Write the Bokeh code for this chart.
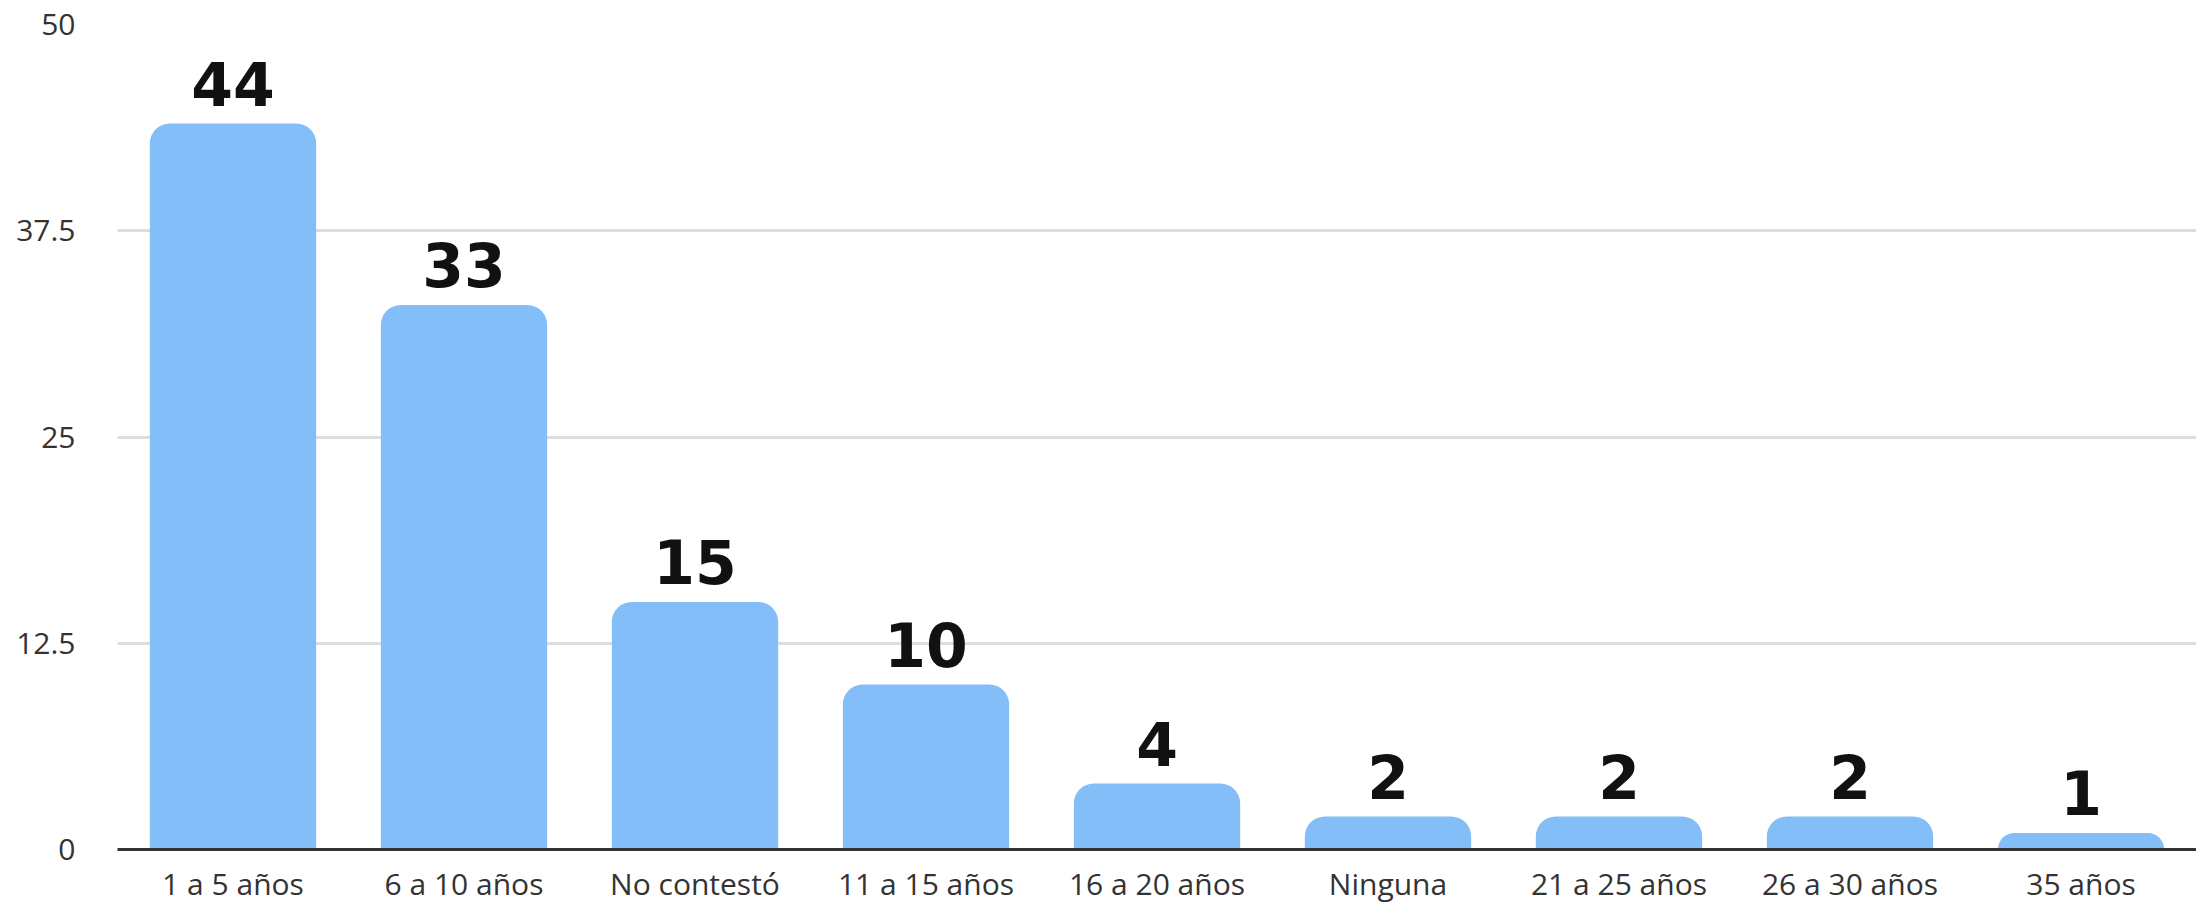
from bokeh.plotting import figure
from bokeh.models import ColumnDataSource, FixedTicker, Range1d
from bokeh.core.properties import value
from bokeh.embed import file_html
from bokeh.resources import INLINE

categories = ["1 a 5 años", "6 a 10 años", "No contestó", "11 a 15 años", "16 a 20 años",
              "Ninguna", "21 a 25 años", "26 a 30 años", "35 años"]
counts = [44, 33, 15, 10, 4, 2, 2, 2, 1]
y_ticks = [0, 12.5, 25, 37.5, 50]
y_tick_labels = {0: "0", 12.5: "12.5", 25: "25", 37.5: "37.5", 50: "50"}

src = ColumnDataSource(data=dict(cat=categories, val=counts, lab=[str(v) for v in counts]))

p = figure(x_range=categories, y_range=Range1d(0, 50), width=2196, height=906,
           output_backend="svg", toolbar_location=None,
           min_border_left=117, min_border_right=0, min_border_top=24, min_border_bottom=50)
p.outline_line_color = None
p.background_fill_color = "white"
p.border_fill_color = "white"

p.vbar(x="cat", top="val", width=0.72, source=src, fill_color="#83bef9", line_color=None,
       border_radius=(20, 20, 0, 0))

p.text(x="cat", y="val", text="lab", source=src, text_align="center", text_baseline="bottom",
       y_offset=-18, text_font=value("DejaVu Sans"), text_font_style="bold",
       text_font_size="60px", text_color="#111111")

p.yaxis.ticker = FixedTicker(ticks=y_ticks)
p.yaxis.major_label_overrides = y_tick_labels
p.yaxis.axis_line_color = None
p.yaxis.major_tick_line_color = None
p.yaxis.minor_tick_line_color = None
p.yaxis.major_label_standoff = 36
p.yaxis.major_label_text_font = "Open Sans"
p.yaxis.major_label_text_font_size = "30px"
p.yaxis.major_label_text_color = "#333333"

p.xaxis.axis_line_color = "#333333"
p.xaxis.axis_line_width = 3
p.xaxis.major_tick_line_color = None
p.xaxis.major_tick_out = 0
p.xaxis.minor_tick_line_color = None
p.xaxis.major_label_standoff = 13
p.xaxis.major_label_text_font = "Open Sans"
p.xaxis.major_label_text_font_size = "30px"
p.xaxis.major_label_text_color = "#333333"

p.xgrid.grid_line_color = None
p.ygrid.ticker = FixedTicker(ticks=y_ticks)
p.ygrid.grid_line_color = "#dddddd"
p.ygrid.grid_line_width = 3

open("out.html", "w").write(file_html(p, INLINE))
